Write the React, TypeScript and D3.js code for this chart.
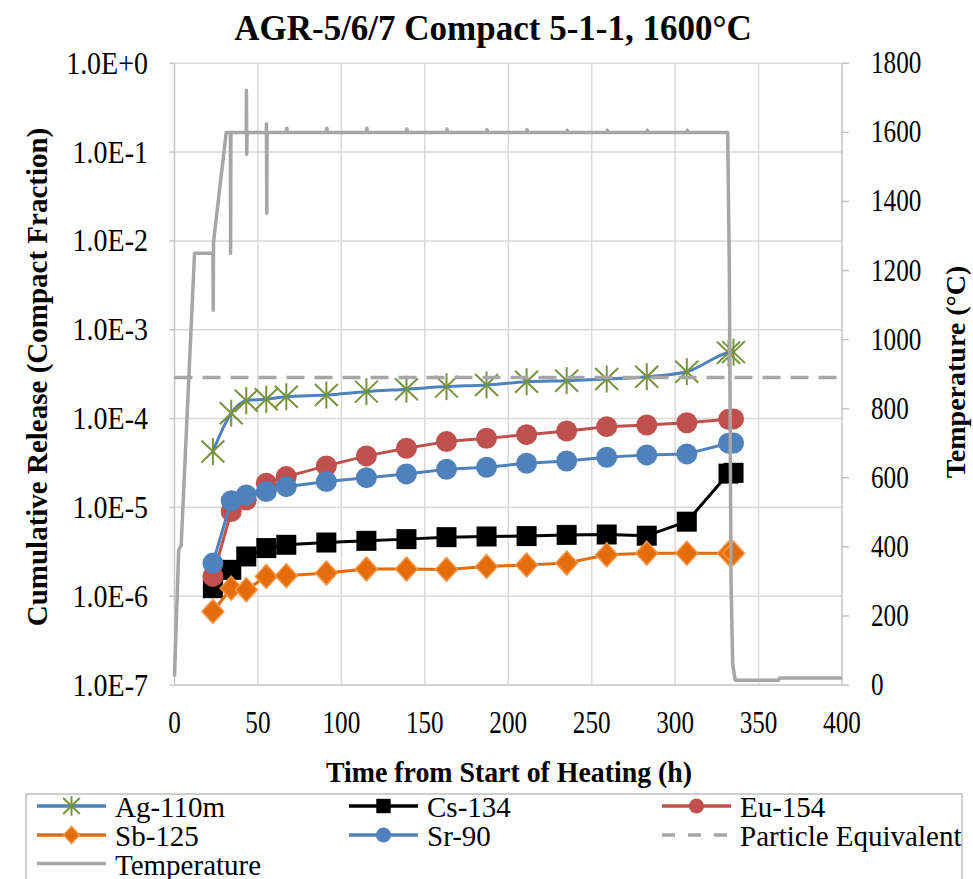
import React from "react";
import * as d3 from "d3";

// ---------- data ----------
const sampleTimes = [23, 34, 43, 55, 67, 91, 115, 139, 163, 187, 211, 235, 259, 283, 307, 332, 335];
const ag110m = [4.25e-5, 1.15e-4, 1.59e-4, 1.65e-4, 1.76e-4, 1.84e-4, 2.01e-4, 2.14e-4, 2.29e-4, 2.39e-4, 2.6e-4, 2.67e-4, 2.79e-4, 2.96e-4, 3.37e-4, 5.5e-4, 5.6e-4];
const cs134 = [1.23e-6, 1.98e-6, 2.8e-6, 3.48e-6, 3.79e-6, 4.02e-6, 4.2e-6, 4.39e-6, 4.62e-6, 4.7e-6, 4.75e-6, 4.9e-6, 4.95e-6, 4.8e-6, 6.9e-6, 2.4e-5, 2.45e-5];
const eu154 = [1.67e-6, 8.98e-6, 1.21e-5, 1.87e-5, 2.22e-5, 2.93e-5, 3.8e-5, 4.63e-5, 5.5e-5, 6.0e-5, 6.59e-5, 7.25e-5, 8.1e-5, 8.47e-5, 8.98e-5, 9.8e-5, 9.9e-5];
const sb125 = [6.73e-7, 1.23e-6, 1.18e-6, 1.67e-6, 1.7e-6, 1.82e-6, 2.02e-6, 2.02e-6, 2.0e-6, 2.16e-6, 2.25e-6, 2.36e-6, 2.92e-6, 3.05e-6, 3.05e-6, 3.05e-6, 3.05e-6];
const sr90 = [2.36e-6, 1.19e-5, 1.38e-5, 1.51e-5, 1.71e-5, 1.95e-5, 2.16e-5, 2.38e-5, 2.69e-5, 2.83e-5, 3.14e-5, 3.33e-5, 3.67e-5, 3.9e-5, 4.0e-5, 5.28e-5, 5.3e-5];
const particleTimes = [0, 400];
const particleValues = [2.9e-4, 2.9e-4];

const tempTimes = [0, 2.5, 4, 12, 23, 23.2, 23.4, 31, 33.5, 33.6, 33.8, 43, 43.1, 43.3, 43.5, 55, 55.1, 55.3, 55.5,
  67, 67.3, 67.6, 91, 91.3, 91.6, 115, 115.3, 115.6, 139, 139.3, 139.6, 163, 163.3, 163.6, 187, 187.3, 187.6,
  211, 211.3, 211.6, 235, 235.3, 235.6, 259, 259.3, 259.6, 283, 283.3, 283.6, 307, 307.3, 307.6,
  331.5, 332.5, 333.5, 334.5, 336, 362, 362.5, 400];
const tempValues = [25, 390, 405, 1250, 1250, 1085, 1283, 1600, 1600, 1250, 1600, 1600, 1722, 1537, 1600, 1600, 1625, 1366, 1600,
  1600, 1612, 1600, 1600, 1612, 1600, 1600, 1612, 1600, 1600, 1610, 1600, 1600, 1610, 1600, 1600, 1608, 1600,
  1600, 1608, 1600, 1600, 1606, 1600, 1600, 1606, 1600, 1600, 1606, 1600, 1600, 1606, 1600,
  1600, 1200, 300, 60, 14, 14, 20, 20];

const xTicks = [0, 50, 100, 150, 200, 250, 300, 350, 400];
const yTicks = [1e-7, 1e-6, 1e-5, 1e-4, 1e-3, 1e-2, 1e-1, 1];
const yTickLabels = ["1.0E-7", "1.0E-6", "1.0E-5", "1.0E-4", "1.0E-3", "1.0E-2", "1.0E-1", "1.0E+0"];
const tTicks = [0, 200, 400, 600, 800, 1000, 1200, 1400, 1600, 1800];

const FONT = "'Liberation Serif', 'Times New Roman', Times, serif";

// ---------- helpers ----------
function Txt({ x, y, size, anchor = "start", bold = false, sx = 1, sy = 1, rotate = 0, children }: any) {
  return (
    <text
      transform={`translate(${x},${y}) rotate(${rotate}) scale(${sx},${sy})`}
      fontSize={size}
      textAnchor={anchor}
      fontWeight={bold ? "bold" : "normal"}
      style={{ fontFamily: FONT }}
      fill="#000"
    >
      {children}
    </text>
  );
}

function Marker({ type, x, y, s = 1 }: { type: string; x: number; y: number; s?: number }) {
  if (type === "asterisk") {
    const hx = 11.5 * s, hy = 11 * s, hv = 13.5 * s;
    return (
      <g stroke="#77933C" strokeWidth={2}>
        <line x1={x - hx} y1={y - hy} x2={x + hx} y2={y + hy} />
        <line x1={x - hx} y1={y + hy} x2={x + hx} y2={y - hy} />
        <line x1={x} y1={y - hv} x2={x} y2={y + hv} />
      </g>
    );
  }
  if (type === "square") {
    const h = 10 * s;
    return <rect x={x - h} y={y - h} width={2 * h} height={2 * h} fill="#000" />;
  }
  if (type === "diamond") {
    const hx = 11 * s, hy = 12 * s;
    return (
      <path
        d={`M${x},${y - hy}L${x + hx},${y}L${x},${y + hy}L${x - hx},${y}Z`}
        fill="#E46C0A"
        stroke="#F79646"
        strokeWidth={1.5}
      />
    );
  }
  if (type === "circleRed") return <circle cx={x} cy={y} r={10.5 * s} fill="#C0504D" />;
  if (type === "circleBlue") return <circle cx={x} cy={y} r={10.5 * s} fill="#4F81BD" />;
  return null;
}

export default function App() {
  const W = 973, H = 879;
  const x0 = 174.5, x1 = 842, yTop = 63.3, yBot = 685;
  const x = d3.scaleLinear().domain([0, 400]).range([x0, x1]);
  const y = d3.scaleLog().domain([1e-7, 1]).range([yBot, yTop]);
  const yT = d3.scaleLinear().domain([0, 1800]).range([yBot, yTop]);

  const lineLin = d3.line<[number, number]>().x((d) => x(d[0])).y((d) => y(d[1]));
  const lineSmooth = d3
    .line<[number, number]>()
    .x((d) => x(d[0]))
    .y((d) => y(d[1]))
    .curve(d3.curveMonotoneX);
  const tempLine = d3.line<[number, number]>().x((d) => x(d[0])).y((d) => yT(d[1]));

  const pts = (vals: number[]) => sampleTimes.map((t, i) => [t, vals[i]] as [number, number]);

  const series = [
    { name: "Ag-110m", vals: ag110m, color: "#4F81BD", marker: "asterisk", smooth: true },
    { name: "Cs-134", vals: cs134, color: "#000000", marker: "square", smooth: false },
    { name: "Eu-154", vals: eu154, color: "#C0504D", marker: "circleRed", smooth: false },
    { name: "Sb-125", vals: sb125, color: "#E46C0A", marker: "diamond", smooth: false },
    { name: "Sr-90", vals: sr90, color: "#4F81BD", marker: "circleBlue", smooth: false },
  ];

  const particlePts = particleTimes.map((t, i) => [t, particleValues[i]] as [number, number]);
  const tempPts = tempTimes.map((t, i) => [t, tempValues[i]] as [number, number]);

  const legendItems = [
    { name: "Ag-110m", kind: "series", color: "#4F81BD", marker: "asterisk", col: 0, row: 0 },
    { name: "Cs-134", kind: "series", color: "#000000", marker: "square", col: 1, row: 0 },
    { name: "Eu-154", kind: "series", color: "#C0504D", marker: "circleRed", col: 2, row: 0 },
    { name: "Sb-125", kind: "series", color: "#E46C0A", marker: "diamond", col: 0, row: 1 },
    { name: "Sr-90", kind: "series", color: "#4F81BD", marker: "circleBlue", col: 1, row: 1 },
    { name: "Particle Equivalent", kind: "dash", color: "#A6A6A6", marker: "", col: 2, row: 1 },
    { name: "Temperature", kind: "plain", color: "#A6A6A6", marker: "", col: 0, row: 2 },
  ];
  const colX = [37, 349, 662];
  const rowY = [806, 835, 863.5];

  return (
    <svg width={W} height={H} style={{ position: "absolute", left: 0, top: 0, background: "#fff" }}>
      <rect x={0} y={0} width={W} height={H} fill="#fff" />
      {/* gridlines */}
      {xTicks.slice(1, -1).map((t) => (
        <line key={"gx" + t} x1={x(t)} x2={x(t)} y1={yTop} y2={yBot} stroke="#D9D9D9" strokeWidth={1.5} />
      ))}
      {yTicks.slice(1).map((v) => (
        <line key={"gy" + v} x1={x0} x2={x1} y1={y(v)} y2={y(v)} stroke="#D9D9D9" strokeWidth={1.5} />
      ))}
      {/* axes */}
      <line x1={x0} x2={x0} y1={yTop} y2={yBot} stroke="#C4C4C4" strokeWidth={1.5} />
      <line x1={x1} x2={x1} y1={yTop} y2={yBot} stroke="#C4C4C4" strokeWidth={1.5} />
      <line x1={x0} x2={x1} y1={yBot} y2={yBot} stroke="#C4C4C4" strokeWidth={1.5} />
      {yTicks.map((v) => (
        <line key={"ty" + v} x1={x0 - 5} x2={x0} y1={y(v)} y2={y(v)} stroke="#C4C4C4" strokeWidth={1.5} />
      ))}
      {tTicks.map((v) => (
        <line key={"tt" + v} x1={x1} x2={x1 + 7} y1={yT(v)} y2={yT(v)} stroke="#C4C4C4" strokeWidth={1.5} />
      ))}

      {/* series */}
      {series.map((s) => (
        <g key={s.name}>
          <path
            d={(s.smooth ? lineSmooth : lineLin)(pts(s.vals)) || ""}
            fill="none"
            stroke={s.color}
            strokeWidth={3}
            strokeLinejoin="round"
          />
          {sampleTimes.map((t, i) => (
            <Marker key={i} type={s.marker} x={x(t)} y={y(s.vals[i])} />
          ))}
        </g>
      ))}
      <path d={lineLin(particlePts) || ""} fill="none" stroke="#A6A6A6" strokeWidth={3.5} strokeDasharray="18,10" />
      <path d={tempLine(tempPts) || ""} fill="none" stroke="#A6A6A6" strokeWidth={3.5} strokeLinejoin="round" />

      {/* tick labels */}
      {yTicks.map((v, i) => (
        <Txt key={"yl" + v} x={148} y={y(v) + 10.5} size={28} anchor="end" sy={1.12}>
          {yTickLabels[i]}
        </Txt>
      ))}
      {tTicks.map((v) => (
        <Txt key={"tl" + v} x={871} y={yT(v) + 10} size={28} anchor="start" sx={0.9} sy={1.12}>
          {String(v)}
        </Txt>
      ))}
      {xTicks.map((t) => (
        <Txt key={"xl" + t} x={x(t)} y={733} size={28} anchor="middle" sx={0.9} sy={1.12}>
          {String(t)}
        </Txt>
      ))}

      {/* titles */}
      <Txt x={493} y={40} size={35} anchor="middle" bold>
        AGR-5/6/7 Compact 5-1-1, 1600°C
      </Txt>
      <Txt x={509} y={782} size={29} anchor="middle" bold sx={0.96}>
        Time from Start of Heating (h)
      </Txt>
      <Txt x={47} y={377} size={29} anchor="middle" bold rotate={-90}>
        Cumulative Release (Compact Fraction)
      </Txt>
      <Txt x={965} y={372} size={28} anchor="middle" bold rotate={-90}>
        Temperature (°C)
      </Txt>

      {/* legend */}
      <rect x={26} y={794} width={936} height={120} fill="none" stroke="#BFBFBF" strokeWidth={1.5} />
      {legendItems.map((it) => {
        const lx = colX[it.col];
        const ly = rowY[it.row];
        return (
          <g key={it.name}>
            <line
              x1={lx}
              x2={lx + 69}
              y1={ly}
              y2={ly}
              stroke={it.color}
              strokeWidth={it.kind === "dash" ? 3.5 : 3.5}
              strokeDasharray={it.kind === "dash" ? "13,13" : undefined}
            />
            {it.marker && <Marker type={it.marker} x={lx + 34.5} y={ly} s={0.72} />}
            <Txt x={lx + 78} y={ly + 11} size={29}>
              {it.name}
            </Txt>
          </g>
        );
      })}
    </svg>
  );
}
